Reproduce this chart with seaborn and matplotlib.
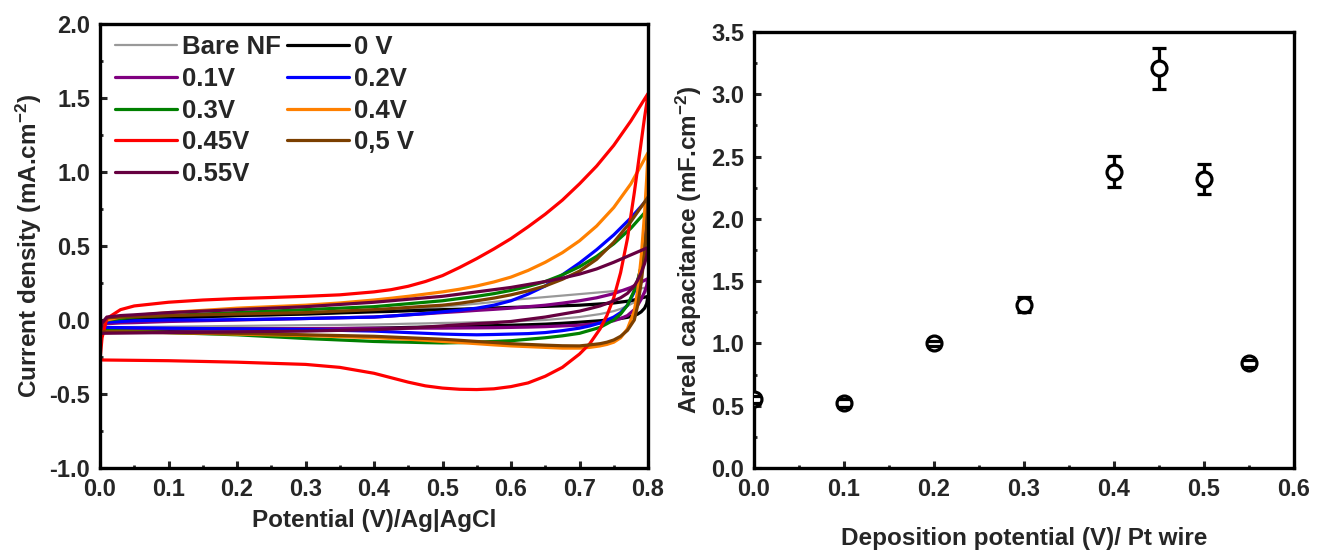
import matplotlib
matplotlib.use("Agg")
import matplotlib.pyplot as plt
from matplotlib.ticker import MultipleLocator
import seaborn as sns

# Potential grids (V vs Ag|AgCl) for forward and reverse scans
V_FWD = [0.0, 0.003, 0.01, 0.03, 0.05, 0.1, 0.15, 0.2, 0.25, 0.3, 0.35,
         0.4, 0.425, 0.45, 0.475, 0.5, 0.525, 0.55, 0.575, 0.6, 0.625, 0.65,
         0.675, 0.7, 0.725, 0.75, 0.775, 0.8]
V_REV = [0.8, 0.798, 0.795, 0.79, 0.785, 0.78, 0.77, 0.76, 0.75, 0.74, 0.73,
         0.715, 0.7, 0.675, 0.65, 0.625, 0.6, 0.575, 0.55, 0.525, 0.5, 0.475,
         0.45, 0.425, 0.4, 0.35, 0.3, 0.2, 0.1, 0.0]

# Current density (mA.cm-2)
bare_fwd = [-0.05, -0.02, -0.005, 0.0, 0.003, 0.01, 0.018, 0.025, 0.032, 0.04, 0.048,
            0.057, 0.063, 0.07, 0.08, 0.09, 0.1, 0.11, 0.122, 0.135, 0.145, 0.155,
            0.165, 0.175, 0.185, 0.195, 0.205, 0.22]
bare_rev = [0.22, 0.2, 0.18, 0.155, 0.135, 0.12, 0.095, 0.075, 0.06, 0.05, 0.04,
            0.03, 0.02, 0.01, 0.0, -0.005, -0.01, -0.013, -0.015, -0.018, -0.02, -0.023,
            -0.025, -0.028, -0.03, -0.033, -0.035, -0.04, -0.045, -0.05]

v00_fwd = [-0.065, -0.03, -0.01, 0.0, 0.005, 0.015, 0.022, 0.03, 0.035, 0.04, 0.048,
           0.055, 0.058, 0.062, 0.066, 0.07, 0.073, 0.077, 0.081, 0.085, 0.088, 0.092,
           0.096, 0.10, 0.107, 0.115, 0.13, 0.16]
v00_rev = [0.16, 0.11, 0.08, 0.055, 0.04, 0.03, 0.018, 0.01, 0.005, 0.0, -0.005,
           -0.01, -0.015, -0.022, -0.028, -0.032, -0.035, -0.038, -0.04, -0.043, -0.045, -0.048,
           -0.05, -0.053, -0.055, -0.058, -0.06, -0.06, -0.063, -0.065]

v01_fwd = [-0.06, -0.04, -0.025, -0.02, -0.018, -0.01, -0.005, 0.0, 0.005, 0.01, 0.015,
           0.02, 0.027, 0.035, 0.042, 0.05, 0.057, 0.065, 0.072, 0.08, 0.09, 0.1,
           0.114, 0.13, 0.15, 0.178, 0.22, 0.28]
v01_rev = [0.28, 0.23, 0.19, 0.14, 0.1, 0.07, 0.03, 0.01, -0.005, -0.013, -0.02,
           -0.028, -0.035, -0.04, -0.045, -0.048, -0.05, -0.052, -0.053, -0.054, -0.055, -0.055,
           -0.055, -0.056, -0.056, -0.057, -0.058, -0.06, -0.06, -0.06]

v02_fwd = [-0.05, -0.03, -0.015, -0.01, -0.005, 0.0, 0.0, 0.003, 0.006, 0.01, 0.015,
           0.02, 0.027, 0.035, 0.044, 0.055, 0.066, 0.08, 0.1, 0.13, 0.175, 0.23,
           0.305, 0.385, 0.475, 0.575, 0.69, 0.82]
v02_rev = [0.82, 0.65, 0.5, 0.36, 0.26, 0.19, 0.1, 0.05, 0.02, 0.0, -0.02,
           -0.04, -0.055, -0.072, -0.085, -0.092, -0.095, -0.098, -0.1, -0.098, -0.095, -0.09,
           -0.085, -0.08, -0.075, -0.07, -0.065, -0.06, -0.055, -0.05]

v03_fwd = [-0.07, -0.03, 0.0, 0.01, 0.02, 0.03, 0.04, 0.05, 0.06, 0.07, 0.08,
           0.09, 0.1, 0.11, 0.12, 0.13, 0.145, 0.16, 0.178, 0.2, 0.227, 0.26,
           0.305, 0.36, 0.43, 0.515, 0.62, 0.75]
v03_rev = [0.75, 0.6, 0.48, 0.36, 0.27, 0.2, 0.1, 0.04, 0.0, -0.025, -0.05,
           -0.07, -0.09, -0.107, -0.12, -0.13, -0.14, -0.145, -0.15, -0.153, -0.155, -0.153,
           -0.15, -0.148, -0.145, -0.135, -0.125, -0.1, -0.085, -0.07]

v04_fwd = [-0.08, -0.03, 0.0, 0.02, 0.03, 0.05, 0.065, 0.08, 0.09, 0.10, 0.115,
           0.135, 0.147, 0.16, 0.175, 0.19, 0.208, 0.23, 0.257, 0.29, 0.335, 0.39,
           0.455, 0.535, 0.635, 0.76, 0.92, 1.13]
v04_rev = [1.13, 0.95, 0.72, 0.42, 0.2, 0.06, -0.06, -0.12, -0.15, -0.165, -0.175,
           -0.185, -0.19, -0.19, -0.185, -0.18, -0.175, -0.168, -0.16, -0.152, -0.145, -0.137,
           -0.13, -0.125, -0.12, -0.112, -0.105, -0.095, -0.085, -0.08]

v045_fwd = [-0.27, -0.12, 0.01, 0.07, 0.095, 0.12, 0.135, 0.145, 0.152, 0.16, 0.17,
            0.19, 0.205, 0.228, 0.26, 0.30, 0.355, 0.415, 0.48, 0.55, 0.63, 0.715,
            0.81, 0.92, 1.04, 1.18, 1.345, 1.53]
v045_rev = [1.53, 1.46, 1.37, 1.2, 1.03, 0.86, 0.55, 0.32, 0.15, 0.03, -0.06,
            -0.16, -0.23, -0.32, -0.38, -0.425, -0.45, -0.465, -0.47, -0.468, -0.46, -0.445,
            -0.42, -0.39, -0.36, -0.32, -0.30, -0.285, -0.275, -0.27]

v05_fwd = [-0.08, -0.02, 0.015, 0.02, 0.022, 0.03, 0.035, 0.04, 0.045, 0.05, 0.06,
           0.07, 0.077, 0.085, 0.093, 0.10, 0.113, 0.13, 0.148, 0.17, 0.197, 0.23,
           0.275, 0.33, 0.41, 0.525, 0.665, 0.83]
v05_rev = [0.83, 0.62, 0.45, 0.25, 0.1, 0.0, -0.07, -0.11, -0.135, -0.15, -0.16,
           -0.168, -0.175, -0.174, -0.17, -0.165, -0.16, -0.152, -0.145, -0.137, -0.13, -0.125,
           -0.12, -0.115, -0.11, -0.105, -0.10, -0.09, -0.085, -0.08]

v055_fwd = [-0.09, -0.02, 0.02, 0.03, 0.035, 0.05, 0.06, 0.07, 0.08, 0.09, 0.105,
            0.12, 0.13, 0.14, 0.15, 0.16, 0.175, 0.19, 0.205, 0.22, 0.24, 0.26,
            0.283, 0.31, 0.345, 0.39, 0.44, 0.49]
v055_rev = [0.49, 0.43, 0.38, 0.32, 0.27, 0.23, 0.18, 0.15, 0.13, 0.112, 0.095,
            0.077, 0.06, 0.04, 0.02, 0.005, -0.01, -0.018, -0.025, -0.032, -0.04, -0.048,
            -0.055, -0.06, -0.065, -0.07, -0.075, -0.08, -0.085, -0.09]

curve_labels = ["Bare NF", "0 V", "0.1V", "0.2V", "0.3V", "0.4V", "0.45V", "0,5 V", "0.55V"]
curve_colors = ["#999999", "#000000", "#800080", "#0000ff", "#008000",
                "#ff8000", "#ff0000", "#7b3f00", "#660040"]
curves = [(bare_fwd, bare_rev), (v00_fwd, v00_rev), (v01_fwd, v01_rev),
          (v02_fwd, v02_rev), (v03_fwd, v03_rev), (v04_fwd, v04_rev),
          (v045_fwd, v045_rev), (v05_fwd, v05_rev), (v055_fwd, v055_rev)]

# Areal capacitance vs deposition potential
dep_potential = [0.0, 0.1, 0.2, 0.3, 0.4, 0.45, 0.5, 0.55]
capacitance = [0.55, 0.52, 1.0, 1.31, 2.38, 3.21, 2.32, 0.84]
cap_error = [0.03, 0.03, 0.02, 0.06, 0.124, 0.165, 0.117, 0.03]

sns.set_style("ticks")
plt.rcParams["font.family"] = ["Liberation Sans", "DejaVu Sans"]
plt.rcParams["font.weight"] = "bold"
plt.rcParams["axes.labelweight"] = "bold"
plt.rcParams["axes.unicode_minus"] = False
plt.rcParams["mathtext.fontset"] = "custom"
plt.rcParams["mathtext.rm"] = "Liberation Sans:bold"
plt.rcParams["mathtext.bf"] = "Liberation Sans:bold"
plt.rcParams["mathtext.default"] = "bf"

fig = plt.figure(figsize=(13.31, 5.5), dpi=100)
ax1 = fig.add_axes([100 / 1331, 1 - 468 / 550, 548 / 1331, 444 / 550])
ax2 = fig.add_axes([754 / 1331, 1 - 468 / 550, 540 / 1331, 436 / 550])

# CV curves
for (fwd, rev), lab, col in zip(curves, curve_labels, curve_colors):
    lw = 1.6 if lab == "Bare NF" else 2.3
    sns.lineplot(x=V_FWD + V_REV, y=fwd + rev, sort=False, estimator=None,
                 color=col, linewidth=lw, ax=ax1, label=lab)
h, l = ax1.get_legend_handles_labels()
order = [0, 2, 4, 6, 8, 1, 3, 5, 7]
ax1.legend([h[i] for i in order], [l[i] for i in order], ncol=2, loc="upper left",
           bbox_to_anchor=(-0.005, 1.015), frameon=False, fontsize=18.5,
           handlelength=2.4, handletextpad=0.2, columnspacing=0.25,
           labelspacing=0.3, borderaxespad=0.3)

ax1.set_xlim(0, 0.8)
ax1.set_ylim(-1.0, 2.0)
ax1.xaxis.set_major_locator(MultipleLocator(0.1))
ax1.xaxis.set_minor_locator(MultipleLocator(0.05))
ax1.yaxis.set_major_locator(MultipleLocator(0.5))
ax1.yaxis.set_minor_locator(MultipleLocator(0.25))
ax1.set_xlabel("Potential (V)/Ag|AgCl", fontsize=17.5, labelpad=6)
ax1.set_ylabel("Current density (mA.cm$^{-2}$)", fontsize=17.5, labelpad=4)

# Capacitance points
err = ax2.errorbar(dep_potential, capacitance, yerr=cap_error, fmt="none",
                   ecolor="black", elinewidth=2.3, capsize=4.7, capthick=2.3, zorder=2)
for cap in err[1]:
    cap.set_zorder(4)
sns.scatterplot(x=dep_potential, y=capacitance, ax=ax2, marker="o", s=115,
                facecolor="white", edgecolor="black", linewidth=2.3, zorder=3)
ax2.set_xlim(0, 0.6)
ax2.set_ylim(0, 3.5)
ax2.xaxis.set_major_locator(MultipleLocator(0.1))
ax2.xaxis.set_minor_locator(MultipleLocator(0.05))
ax2.yaxis.set_major_locator(MultipleLocator(0.5))
ax2.yaxis.set_minor_locator(MultipleLocator(0.25))
ax2.set_xlabel("Deposition potential (V)/ Pt wire", fontsize=17.5, labelpad=19)
ax2.set_ylabel("Areal capacitance (mF.cm$^{-2}$)", fontsize=17.5, labelpad=5)

for ax in (ax1, ax2):
    for sp in ax.spines.values():
        sp.set_linewidth(2.4)
        sp.set_color("black")
    ax.tick_params(which="major", direction="in", length=5, width=2.2,
                   labelsize=17, pad=7)
    ax.tick_params(which="minor", direction="in", length=2.5, width=2.0)
    ax.tick_params(top=False, right=False, which="both")
    for t in ax.get_xticklabels() + ax.get_yticklabels():
        t.set_fontweight("bold")

fig.savefig("out.png", dpi=100)
